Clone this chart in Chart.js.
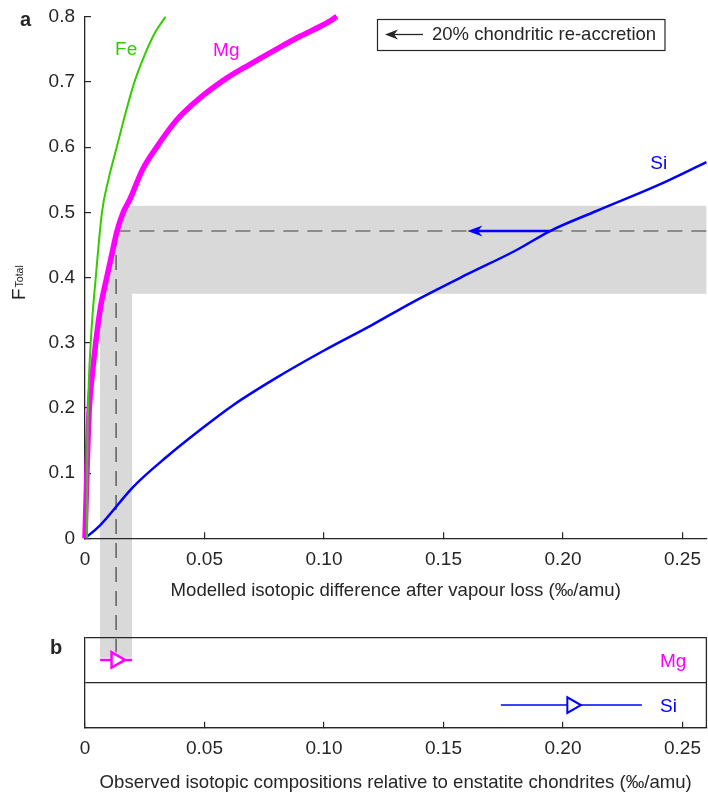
<!DOCTYPE html>
<html>
<head>
<meta charset="utf-8">
<script src="https://cdn.jsdelivr.net/npm/chart.js@4/dist/chart.umd.min.js"></script>
<style>
  html, body { margin: 0; padding: 0; background: #fff; }
  #wrap { position: relative; width: 708px; height: 805px; }
  #wrap canvas { position: absolute; left: 0; top: 0; }
  #chartB { z-index: 2; }
</style>
</head>
<body>
<div id="wrap">
  <canvas id="chartA" width="708" height="805"></canvas>
  <canvas id="chartB" width="708" height="805"></canvas>
</div>
<script>
// ---- panel a: modelled curves (x = isotopic difference, y = F_Total)
const feX = [0.0008, 0.0009, 0.0013, 0.0024, 0.0045, 0.0071, 0.0098, 0.0133, 0.0168, 0.0207, 0.0248, 0.0292, 0.0337];
const feY = [0, 0.1, 0.2, 0.3, 0.4, 0.5, 0.55, 0.6, 0.65, 0.7, 0.74, 0.775, 0.8];

const mgX = [0, 0.0008, 0.0018, 0.0030, 0.0045, 0.0063, 0.0091, 0.0115, 0.0133, 0.016, 0.0188, 0.024, 0.030, 0.038, 0.048, 0.059, 0.069, 0.080, 0.090, 0.100, 0.1054];
const mgY = [0, 0.1, 0.2, 0.25, 0.3, 0.35, 0.40, 0.44, 0.47, 0.50, 0.52, 0.565, 0.60, 0.64, 0.675, 0.705, 0.727, 0.75, 0.77, 0.788, 0.8];

const siX = [0, 0.0063, 0.0202, 0.0342, 0.0481, 0.0621, 0.08, 0.10, 0.12, 0.137, 0.16, 0.18, 0.1946, 0.214, 0.24, 0.26];
const siY = [0, 0.02, 0.079, 0.125, 0.166, 0.2045, 0.246, 0.288, 0.327, 0.362, 0.405, 0.441, 0.4713, 0.502, 0.542, 0.577];

const xTicks = [0, 0.05, 0.10, 0.15, 0.20, 0.25];
const xTickLabels = ['0', '0.05', '0.10', '0.15', '0.20', '0.25'];
const yTicks = [0, 0.1, 0.2, 0.3, 0.4, 0.5, 0.6, 0.7, 0.8];
const yTickLabels = ['0', '0.1', '0.2', '0.3', '0.4', '0.5', '0.6', '0.7', '0.8'];

// F range of grey band, target F and the re-accretion arrow
const fRange = [0.375, 0.51];
const fTarget = 0.4713;
const arrowFromX = 0.1946;
const arrowToX = 0.160;

// curve labels
const curveLabels = ['Fe', 'Mg', 'Si'];
const curveLabelX = [0.0126, 0.0536, 0.2365];
const curveLabelY = [0.749, 0.748, 0.575];

// ---- panel b: observed compositions
const obsRows = ['Si', 'Mg'];
const obsValue = [0.2037, 0.013];
const obsLow = [0.174, 0.0063];
const obsHigh = [0.233, 0.0197];

const FONT = "'Liberation Sans', Arial, Helvetica, sans-serif";
const INK = '#262626';
const colors = { Fe: '#33cc00', Mg: '#ff00ff', Si: '#0000ff' };

Chart.defaults.font.family = FONT;
Chart.defaults.font.size = 19;
Chart.defaults.color = INK;

const pts = (xs, ys) => xs.map((x, i) => ({ x: x, y: ys[i] }));

function arrowHead(ctx, tipX, tipY, dir, len, half) {
  // dir: -1 pointing left, +1 pointing right
  ctx.beginPath();
  ctx.moveTo(tipX, tipY);
  ctx.lineTo(tipX - dir * len, tipY - half);
  ctx.lineTo(tipX - dir * len * 0.7, tipY);
  ctx.lineTo(tipX - dir * len, tipY + half);
  ctx.closePath();
  ctx.fill();
}

// keep the plot box fixed, no extra room for overhanging labels
const fixX = h => s => { s.height = h; s.paddingLeft = 0; s.paddingRight = 0; };
const fixY = w => s => { s.width = w; s.paddingTop = 0; s.paddingBottom = 0; };

let chartA = null, chartB = null;

// ---------------- panel b ----------------
const rowY = name => obsRows.indexOf(name) + 0.5;
const bDatasets = [];
obsRows.forEach((name, i) => {
  bDatasets.push({
    label: name + ' obs', data: [{ x: obsValue[i], y: rowY(name) }],
    pointStyle: 'triangle', rotation: 90, pointRadius: 9,
    borderColor: colors[name], backgroundColor: '#ffffff',
    borderWidth: name === 'Mg' ? 2.5 : 2, showLine: false, order: 0
  });
});
obsRows.forEach((name, i) => {
  bDatasets.push({
    label: name + ' range', data: [{ x: obsLow[i], y: rowY(name) }, { x: obsHigh[i], y: rowY(name) }],
    borderColor: colors[name], borderWidth: name === 'Mg' ? 2.5 : 1.5,
    pointRadius: 0, showLine: true, order: 1
  });
});

const overlayB = {
  id: 'overlayB',
  afterDraw(chart) {
    const { ctx, chartArea: a, scales: { x, y } } = chart;
    ctx.save();
    ctx.strokeStyle = INK;
    ctx.lineWidth = 1.3;
    ctx.beginPath();
    ctx.moveTo(a.right, a.top);
    ctx.lineTo(a.right, a.bottom);
    ctx.stroke();
    ctx.font = '19px ' + FONT;
    ctx.textBaseline = 'middle';
    ctx.textAlign = 'left';
    obsRows.forEach(name => {
      ctx.fillStyle = colors[name];
      ctx.fillText(name, x.getPixelForValue(0.2406), y.getPixelForValue(rowY(name) - 0.04));
    });
    ctx.fillStyle = INK;
    ctx.font = 'bold 20px ' + FONT;
    ctx.fillText('b', 50, 648);
    ctx.restore();
  }
};

chartB = new Chart(document.getElementById('chartB'), {
  type: 'scatter',
  data: { datasets: bDatasets },
  options: {
    responsive: false, animation: false,
    layout: { autoPadding: false, padding: { top: 637.3, bottom: 4.7, left: 0, right: 1.6 } },
    plugins: { legend: { display: false }, tooltip: { enabled: false } },
    scales: {
      x: {
        type: 'linear', min: 0, max: 0.26,
        afterBuildTicks: s => { s.ticks = xTicks.map(v => ({ value: v })); },
        afterFit: fixX(72.6),
        ticks: { callback: (v, i) => xTickLabels[i], padding: 16, maxRotation: 0, autoSkip: false },
        grid: { drawOnChartArea: false, tickLength: -6, color: INK, lineWidth: 1.2 },
        border: { color: INK, width: 1.3 },
        title: { display: true, text: 'Observed isotopic compositions relative to enstatite chondrites (‰/amu)', font: { size: 18.6 }, padding: { top: 0, bottom: 6.4 } }
      },
      y: {
        type: 'linear', min: 0, max: 2,
        afterBuildTicks: s => { s.ticks = [0, 1, 2].map(v => ({ value: v })); },
        afterFit: fixY(85),
        ticks: { display: false },
        grid: { drawOnChartArea: true, drawTicks: false, color: INK, lineWidth: 1.3 },
        border: { color: INK, width: 1.3 }
      }
    }
  },
  plugins: [overlayB]
});

// ---------------- panel a ----------------
function bandOutline() {
  // left edge follows the Mg curve inside the F range, below it the observed Mg range
  const edge = pts(mgX, mgY).filter(p => p.y >= 0.35 && p.y < fRange[1]);
  const i = mgY.findIndex(v => v >= fRange[1]);
  const t = (fRange[1] - mgY[i - 1]) / (mgY[i] - mgY[i - 1]);
  edge.push({ x: mgX[i - 1] + t * (mgX[i] - mgX[i - 1]), y: fRange[1] });
  return edge;
}

const overlayA = {
  id: 'overlayA',
  beforeDraw(chart) {
    const { ctx, scales: { x, y } } = chart;
    const yb = chartB.scales.y;
    const mgI = obsRows.indexOf('Mg');
    const bottom = yb.getPixelForValue(rowY('Mg') + 0.05);
    ctx.save();
    ctx.fillStyle = '#d9d9d9';
    ctx.beginPath();
    ctx.moveTo(x.getPixelForValue(obsLow[mgI]), bottom);
    bandOutline().forEach(p => ctx.lineTo(x.getPixelForValue(p.x), y.getPixelForValue(p.y)));
    ctx.lineTo(x.getPixelForValue(0.26), y.getPixelForValue(fRange[1]));
    ctx.lineTo(x.getPixelForValue(0.26), y.getPixelForValue(fRange[0]));
    ctx.lineTo(x.getPixelForValue(obsHigh[mgI]), y.getPixelForValue(fRange[0]));
    ctx.lineTo(x.getPixelForValue(obsHigh[mgI]), bottom);
    ctx.closePath();
    ctx.fill();

    // dashed guide lines
    const xd = x.getPixelForValue(obsValue[mgI]);
    const yd = y.getPixelForValue(fTarget);
    ctx.strokeStyle = '#404040';
    ctx.lineWidth = 1.2;
    ctx.setLineDash([15, 9]);
    ctx.beginPath();
    ctx.moveTo(x.getPixelForValue(0.26), yd);
    ctx.lineTo(xd, yd);
    ctx.stroke();
    ctx.beginPath();
    ctx.moveTo(xd, yd);
    ctx.lineTo(xd, yb.getPixelForValue(rowY('Mg') + 0.17));
    ctx.stroke();
    ctx.restore();
  },
  afterDatasetsDraw(chart) {
    const { ctx, scales: { x, y } } = chart;
    ctx.save();
    // blue re-accretion arrow
    const ya = y.getPixelForValue(fTarget);
    const x0 = x.getPixelForValue(arrowFromX), x1 = x.getPixelForValue(arrowToX);
    ctx.strokeStyle = colors.Si;
    ctx.fillStyle = colors.Si;
    ctx.lineWidth = 2.5;
    ctx.beginPath();
    ctx.moveTo(x0, ya);
    ctx.lineTo(x1 + 8, ya);
    ctx.stroke();
    arrowHead(ctx, x1, ya, -1, 15, 5.5);

    // curve labels
    ctx.font = '19px ' + FONT;
    ctx.textBaseline = 'middle';
    ctx.textAlign = 'left';
    curveLabels.forEach((name, i) => {
      ctx.fillStyle = colors[name];
      ctx.fillText(name, x.getPixelForValue(curveLabelX[i]), y.getPixelForValue(curveLabelY[i]));
    });

    // legend box
    ctx.strokeStyle = INK;
    ctx.fillStyle = INK;
    ctx.lineWidth = 1.2;
    ctx.strokeRect(377.5, 19.5, 287.5, 31);
    ctx.lineWidth = 1.3;
    ctx.beginPath();
    ctx.moveTo(423, 34.5);
    ctx.lineTo(392, 34.5);
    ctx.stroke();
    arrowHead(ctx, 385, 34.5, -1, 13, 5);
    ctx.font = '18.5px ' + FONT;
    ctx.fillText('20% chondritic re-accretion', 432, 35);

    // panel letter
    ctx.font = 'bold 20px ' + FONT;
    ctx.fillText('a', 20, 20);

    // y axis title F_Total
    ctx.translate(25, 300);
    ctx.rotate(-Math.PI / 2);
    ctx.textBaseline = 'alphabetic';
    ctx.font = '19px ' + FONT;
    ctx.fillText('F', 0, 0);
    const fw = ctx.measureText('F').width;
    ctx.font = '10.5px ' + FONT;
    ctx.fillText('Total', fw + 1, -2);
    ctx.restore();
  }
};

chartA = new Chart(document.getElementById('chartA'), {
  type: 'scatter',
  data: {
    datasets: [
      { label: 'Fe', data: pts(feX, feY), borderColor: colors.Fe, borderWidth: 2, showLine: true, pointRadius: 0, clip: false, cubicInterpolationMode: 'monotone' },
      { label: 'Mg', data: pts(mgX, mgY), borderColor: colors.Mg, borderWidth: 5.5, showLine: true, pointRadius: 0, clip: false, cubicInterpolationMode: 'monotone' },
      { label: 'Si', data: pts(siX, siY), borderColor: colors.Si, borderWidth: 2.5, showLine: true, pointRadius: 0, clip: false, cubicInterpolationMode: 'monotone' }
    ]
  },
  options: {
    responsive: false, animation: false,
    layout: { autoPadding: false, padding: { top: 16.7, bottom: 196.7, left: 0, right: 1.6 } },
    plugins: { legend: { display: false }, tooltip: { enabled: false } },
    scales: {
      x: {
        type: 'linear', min: 0, max: 0.26,
        afterBuildTicks: s => { s.ticks = xTicks.map(v => ({ value: v })); },
        afterFit: fixX(70),
        ticks: { callback: (v, i) => xTickLabels[i], padding: 16, maxRotation: 0, autoSkip: false },
        grid: { drawOnChartArea: false, tickLength: -6, color: INK, lineWidth: 1.2 },
        border: { color: INK, width: 1.3 },
        title: { display: true, text: 'Modelled isotopic difference after vapour loss (‰/amu)', font: { size: 18.6 }, padding: { top: 0, bottom: 6.4 } }
      },
      y: {
        type: 'linear', min: 0, max: 0.8,
        afterBuildTicks: s => { s.ticks = yTicks.map(v => ({ value: v })); },
        afterFit: fixY(85),
        ticks: { callback: (v, i) => yTickLabels[i], padding: 16 },
        grid: { drawOnChartArea: false, tickLength: -6, color: INK, lineWidth: 1.2 },
        border: { color: INK, width: 1.3 }
      }
    }
  },
  plugins: [overlayA]
});
</script>
</body>
</html>
